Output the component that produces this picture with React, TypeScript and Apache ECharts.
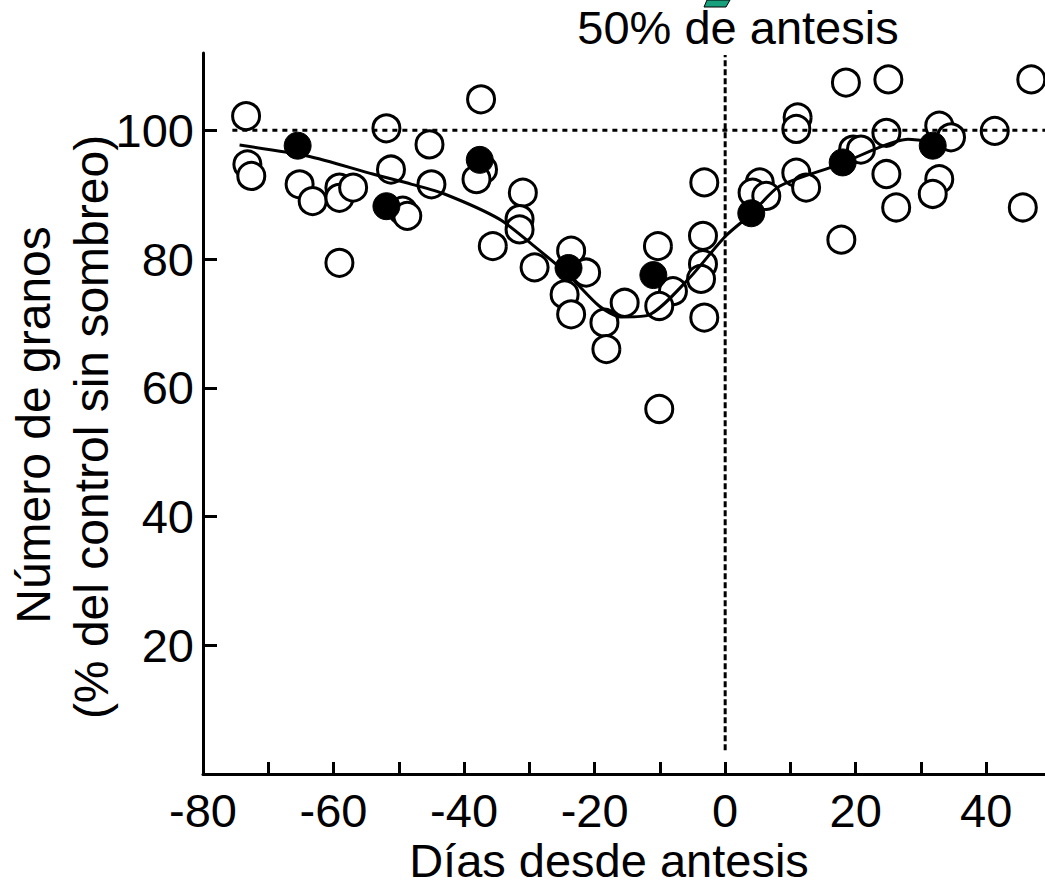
import React, { useEffect, useRef } from "react";
import * as echarts from "echarts";

const FONT = "'Liberation Sans', Arial, Helvetica, sans-serif";

const xTickValues = [-70, -60, -50, -40, -30, -20, -10, 0, 10, 20, 30, 40];
const xLabelValues = [-80, -60, -40, -20, 0, 20, 40];
const yTickValues = [20, 40, 60, 80, 100];

// open circles (individual shading experiments)
const openX = [
  -73.4, -73.2, -72.6, -65.2, -63.2, -59.1, -59.1, -57.0, -59.1, -51.9,
  -51.2, -49.4, -48.7, -45.3, -45.0, -37.4, -37.1, -38.1, -35.6, -31.0,
  -31.5, -31.5, -29.2, -23.6, -21.3, -24.6, -23.6, -18.5, -18.2, -15.4,
  -10.3, -8.0, -10.1, -10.1, -3.2, -3.4, -3.4, -3.7, -3.2, 5.3,
  4.2, 6.3, 10.9, 12.4, 11.1, 10.9, 18.5, 25.0, 46.9, 24.7,
  19.6, 20.8, 32.8, 34.6, 41.3, 24.7, 26.2, 32.8, 31.8, 45.6,
  17.8,
];
const openY = [
  102.2, 94.7, 92.9, 91.6, 89.0, 91.1, 89.5, 91.1, 79.4, 100.3,
  93.9, 87.5, 86.7, 97.8, 91.6, 104.8, 93.9, 92.4, 82.0, 90.3,
  86.2, 84.6, 78.7, 81.3, 77.9, 74.5, 71.4, 70.1, 66.0, 73.2,
  82.0, 75.0, 72.7, 56.7, 91.9, 83.6, 79.2, 76.9, 70.9, 91.9,
  90.3, 89.8, 93.4, 91.1, 102.0, 100.2, 107.4, 107.9, 107.9, 99.6,
  97.0, 97.0, 100.7, 98.9, 99.9, 93.2, 88.0, 92.4, 90.1, 88.0,
  83.0,
];

// filled circles (means)
const meanX = [-65.5, -51.9, -37.6, -24.0, -11.0, 4.0, 18.0, 31.8];
const meanY = [97.6, 88.2, 95.4, 78.6, 77.5, 87.1, 95.0, 97.6];

// fitted curve
const fitX = [-74.4, -64, -54, -48, -43, -34.6, -29.5, -24, -19.3, -16, -12, -5.7, 0, 4, 8.3, 17.5, 24, 28, 32];
const fitY = [97.7, 96.0, 93.2, 91.6, 90.1, 86.2, 82.2, 77.5, 72.7, 71.0, 71.2, 76.8, 83.5, 87.0, 91.3, 94.7, 97.5, 98.6, 98.2];

// reference lines
const controlLevel = 100;
const controlLineX = [-75.5, 49];
const anthesisDay = 0;
const anthesisLineY = [3.7, 111.7];

export default function App() {
  const ref = useRef<HTMLDivElement>(null);
  useEffect(() => {
    if (!ref.current) return;
    const chart = echarts.init(ref.current, undefined, { renderer: "svg" });
    const openData = openX.map((x, i) => [x, openY[i]]);
    const meanData = meanX.map((x, i) => [x, meanY[i]]);
    const fitData = fitX.map((x, i) => [x, fitY[i]]);
    chart.setOption({
      animation: false,
      backgroundColor: "#fff",
      grid: { left: 203, top: 53, width: 842, height: 721, containLabel: false, outerBoundsMode: "none" },
      xAxis: {
        type: "value",
        min: -80,
        max: 49,
        interval: 10,
        splitLine: { show: false },
        axisLine: { show: true, onZero: false, lineStyle: { color: "#000", width: 3 } },
        axisTick: { show: true, inside: true, length: 12, lineStyle: { color: "#000", width: 3 }, customValues: xTickValues },
        axisLabel: { customValues: xLabelValues, fontSize: 47, color: "#000", fontFamily: FONT, margin: 13 },
      },
      yAxis: {
        type: "value",
        min: 0,
        max: 112,
        interval: 20,
        splitLine: { show: false },
        axisLine: { show: true, onZero: false, lineStyle: { color: "#000", width: 3 } },
        axisTick: { show: true, inside: true, length: 14, lineStyle: { color: "#000", width: 3 }, customValues: yTickValues },
        axisLabel: { customValues: yTickValues, fontSize: 47, color: "#000", fontFamily: FONT, margin: 9 },
      },
      graphic: [
        {
          type: "polygon",
          shape: { points: [[704, 7], [726, 7], [730, 0], [707, 0]] },
          style: { fill: "#17a07c", stroke: "#000", lineWidth: 1 },
        },
        {
          type: "text",
          x: 738,
          y: 27,
          style: { text: "50% de antesis", font: `47px ${FONT}`, fill: "#000", align: "center", verticalAlign: "middle" },
        },
        {
          type: "text",
          x: 609,
          y: 860,
          style: { text: "Días desde antesis", font: `47px ${FONT}`, fill: "#000", align: "center", verticalAlign: "middle" },
        },
        {
          type: "text",
          x: 33,
          y: 425,
          rotation: Math.PI / 2,
          style: { text: "Número de granos", font: `48px ${FONT}`, fill: "#000", align: "center", verticalAlign: "middle" },
        },
        {
          type: "text",
          x: 91,
          y: 427,
          rotation: Math.PI / 2,
          style: { text: "(% del control sin sombreo)", font: `48px ${FONT}`, fill: "#000", align: "center", verticalAlign: "middle" },
        },
      ],
      series: [
        {
          type: "line",
          data: controlLineX.map((x) => [x, controlLevel]),
          symbol: "none",
          lineStyle: { color: "#000", width: 3, type: [5, 5] },
          silent: true,
        },
        {
          type: "line",
          data: anthesisLineY.map((y) => [anthesisDay, y]),
          symbol: "none",
          lineStyle: { color: "#000", width: 3, type: [6, 3] },
          silent: true,
        },
        {
          type: "line",
          data: fitData,
          symbol: "none",
          smooth: 0.25,
          lineStyle: { color: "#000", width: 3 },
          silent: true,
        },
        {
          type: "scatter",
          data: openData,
          symbol: "circle",
          symbolSize: 27,
          itemStyle: { color: "#fff", borderColor: "#000", borderWidth: 3, opacity: 1 },
        },
        {
          type: "scatter",
          data: meanData,
          symbol: "circle",
          symbolSize: 27,
          itemStyle: { color: "#000", borderColor: "#000", borderWidth: 1, opacity: 1 },
        },
      ],
    });
    return () => chart.dispose();
  }, []);
  return <div ref={ref} style={{ position: "absolute", left: 0, top: 0, width: 1045, height: 888 }} />;
}
